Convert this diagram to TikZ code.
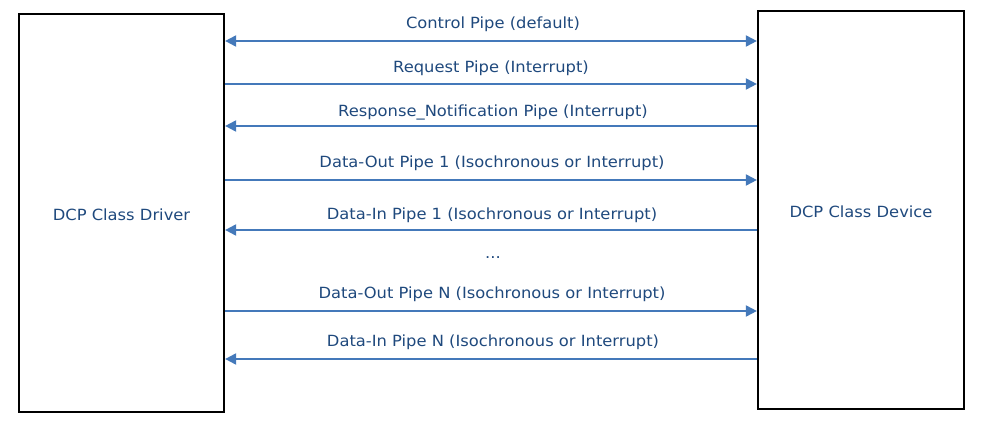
\documentclass[tikz,border=0pt]{standalone}
\usepackage{fontspec}
\setmainfont{DejaVu Sans}[FakeStretch=1.06]
\usetikzlibrary{arrows.meta}
\definecolor{pipeblue}{RGB}{68,121,186}
\definecolor{labelblue}{RGB}{31,73,125}
\begin{document}
\begin{tikzpicture}[x=1pt,y=-1pt,
  classbox/.style={draw=black,line width=2.2pt,minimum width=#1,inner sep=0pt},
  boxlabel/.style={text=labelblue,font=\fontsize{15.4}{18}\selectfont,inner sep=0pt},
  pipe/.style={draw=pipeblue,line width=2pt,{Triangle[length=11pt,width=11pt]}-{Triangle[length=11pt,width=11pt]}},
  pipeout/.style={draw=pipeblue,line width=2pt,-{Triangle[length=11pt,width=11pt]}},
  pipein/.style={draw=pipeblue,line width=2pt,{Triangle[length=11pt,width=11pt]}-},
  pipelabel/.style={text=labelblue,font=\fontsize{15.4}{18}\selectfont,inner sep=0pt}]
  \useasboundingbox (0,0) rectangle (983,422);

  % host and device
  \node[classbox=205pt,minimum height=398pt] (drv) at (121.5,213) {};
  \node[classbox=206pt,minimum height=398pt] (dev) at (861,210) {};
  \node[boxlabel] (drvname) at ([yshift=-2pt]drv.center) {DCP Class Driver};
  \node[boxlabel] (devname) at ([yshift=-2pt]dev.center) {DCP Class Device};

  % endpoint rows
  \coordinate (r1) at (0,41);
  \coordinate (r2) at (0,84);
  \coordinate (r3) at (0,126);
  \coordinate (r4) at (0,180);
  \coordinate (r5) at (0,230);
  \coordinate (r6) at (0,311);
  \coordinate (r7) at (0,359);

  \draw[pipe]    (drv.east |- r1) -- (dev.west |- r1);
  \draw[pipeout] (drv.east |- r2) -- (dev.west |- r2);
  \draw[pipein]  (drv.east |- r3) -- (dev.west |- r3);
  \draw[pipeout] (drv.east |- r4) -- (dev.west |- r4);
  \draw[pipein]  (drv.east |- r5) -- (dev.west |- r5);
  \draw[pipeout] (drv.east |- r6) -- (dev.west |- r6);
  \draw[pipein]  (drv.east |- r7) -- (dev.west |- r7);

  % pipe labels
  \node[pipelabel] (l1) at (493,24)  {Control Pipe (default)};
  \node[pipelabel] (l2) at (491,68)  {Request Pipe (Interrupt)};
  \node[pipelabel] (l3) at (493,112) {Response\_Notification Pipe (Interrupt)};
  \node[pipelabel] (l4) at (492,163) {Data-Out Pipe 1 (Isochronous or Interrupt)};
  \node[pipelabel] (l5) at (492,215) {Data-In Pipe 1 (Isochronous or Interrupt)};
  \node[pipelabel] (l6) at (493,258) {...};
  \node[pipelabel] (l7) at (492,294) {Data-Out Pipe N (Isochronous or Interrupt)};
  \node[pipelabel] (l8) at (493,342) {Data-In Pipe N (Isochronous or Interrupt)};
\end{tikzpicture}
\end{document}
